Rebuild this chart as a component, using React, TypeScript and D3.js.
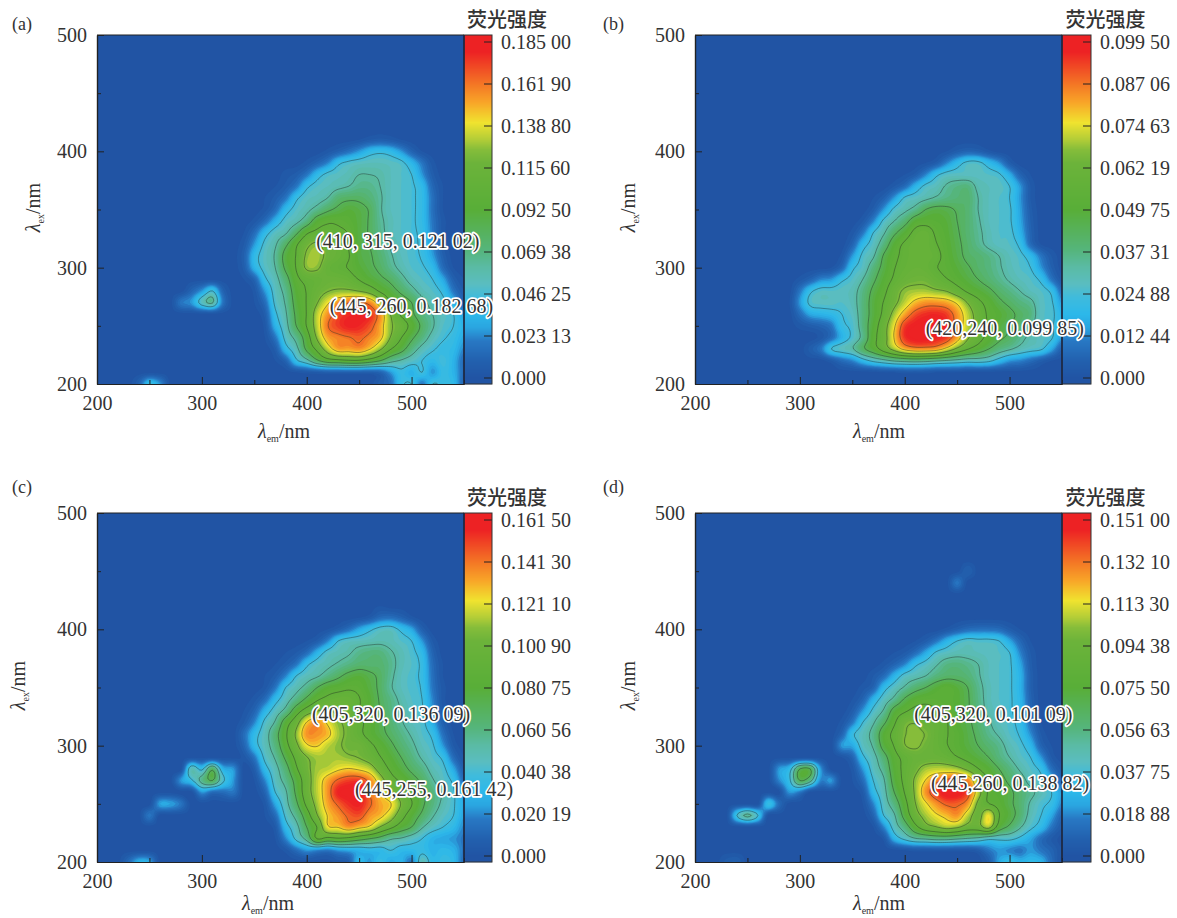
import React, { useEffect, useRef } from 'react';
import * as d3 from 'd3';

// fluorescence EEM maps, values are % of each panel's colourbar maximum
// rows run from high ex to ex=200 in 10 nm steps, columns start at emStart in 10 nm steps
const emTicks = [200, 300, 400, 500];
const emMinor = [250, 350, 450, 550];
const exTicks = [200, 300, 400, 500];
const exMinor = [250, 350, 450];

const barLabelsA = ['0.000', '0.023 13', '0.046 25', '0.069 38', '0.092 50', '0.115 60', '0.138 80', '0.161 90', '0.185 00'];
const barLabelsB = ['0.000', '0.012 44', '0.024 88', '0.037 31', '0.049 75', '0.062 19', '0.074 63', '0.087 06', '0.099 50'];
const barLabelsC = ['0.000', '0.020 19', '0.040 38', '0.060 56', '0.080 75', '0.100 90', '0.121 10', '0.141 30', '0.161 50'];
const barLabelsD = ['0.000', '0.018 88', '0.037 75', '0.056 63', '0.075 50', '0.094 38', '0.113 30', '0.132 10', '0.151 00'];

const rowsA = [
  [0, 0, 0, 0, 0, 0, 0, 0, 0, 0, 0, 1, 3, 4, 3, 1, 0, 0, 0, 0, 0, 0],
  [0, 0, 0, 0, 0, 0, 0, 0, 2, 5, 9, 14, 20, 22, 20, 14, 6, 1, 0, 0, 0, 0],
  [0, 0, 0, 0, 0, 0, 2, 6, 12, 22, 26, 28, 29, 29, 28, 26, 19, 10, 2, 0, 0, 0],
  [0, 0, 0, 0, 2, 4, 10, 20, 26, 28, 30, 33, 33, 32, 29, 27, 24, 14, 4, 0, 0, 0],
  [0, 0, 0, 1, 4, 10, 22, 27, 29, 31, 33, 36, 36, 33, 29, 27, 25, 20, 7, 1, 0, 0],
  [0, 0, 1, 4, 10, 22, 28, 30, 33, 40, 42, 42, 39, 34, 29, 27, 25, 21, 9, 1, 0, 0],
  [0, 0, 2, 8, 20, 27, 31, 36, 42, 46, 49, 47, 43, 34, 29, 27, 25, 21, 9, 1, 0, 0],
  [0, 2, 8, 18, 27, 31, 38, 50, 54, 54, 52, 48, 43, 35, 30, 27, 25, 21, 10, 2, 0, 0],
  [1, 8, 20, 28, 32, 42, 54, 58, 58, 57, 55, 48, 43, 36, 30, 27, 25, 22, 11, 2, 0, 0],
  [3, 14, 26, 32, 42, 54, 64, 68, 62, 60, 55, 48, 44, 38, 32, 28, 26, 22, 13, 3, 0, 0],
  [5, 20, 28, 34, 48, 56, 68, 70, 64, 60, 56, 48, 45, 40, 34, 29, 26, 23, 15, 5, 0, 0],
  [4, 18, 27, 33, 46, 56, 68, 68, 60, 57, 55, 50, 46, 42, 36, 31, 27, 25, 20, 8, 1, 0],
  [1, 6, 22, 30, 40, 53, 58, 60, 62, 62, 60, 55, 50, 46, 42, 36, 30, 27, 24, 16, 5, 1],
  [0, 2, 14, 28, 36, 50, 56, 62, 66, 68, 68, 66, 62, 54, 48, 42, 36, 30, 27, 22, 10, 3],
  [0, 1, 8, 26, 34, 48, 56, 66, 76, 84, 88, 90, 85, 72, 56, 50, 44, 36, 30, 26, 18, 6],
  [0, 0, 4, 22, 32, 46, 56, 72, 84, 92, 96, 98, 96, 84, 66, 54, 46, 38, 33, 28, 24, 14],
  [0, 0, 2, 18, 30, 44, 56, 72, 88, 94, 98, 97, 92, 82, 68, 62, 52, 42, 34, 27, 24, 18],
  [0, 0, 1, 10, 27, 36, 50, 68, 82, 86, 88, 90, 86, 80, 66, 56, 46, 38, 30, 25, 22, 16],
  [0, 0, 0, 4, 20, 30, 46, 58, 72, 82, 82, 84, 78, 68, 56, 48, 38, 30, 25, 22, 20, 12],
  [0, 0, 0, 1, 6, 22, 30, 42, 50, 52, 54, 54, 50, 44, 36, 32, 28, 24, 20, 24, 18, 8],
  [0, 0, 0, 0, 0, 1, 2, 3, 4, 4, 4, 4, 4, 6, 14, 22, 18, 24, 14, 22, 18, 8],
  [0, 0, 0, 0, 0, 0, 0, 0, 0, 0, 0, 0, 0, 4, 8, 22, 24, 10, 24, 22, 20, 6],
];
const spotsA = [
  [280, 270, 10], [290, 270, 14], [300, 270, 28], [310, 270, 34], [320, 270, 10],
  [290, 280, 6], [300, 280, 14], [310, 280, 24], [320, 280, 6],
  [240, 200, 6], [250, 200, 22], [260, 200, 14],
];

const rowsB = [
  [0, 0, 0, 0, 0, 0, 0, 0, 0, 0, 0, 0, 0, 0, 0, 1, 4, 6, 5, 2, 0, 0, 0, 0, 0, 0, 0],
  [0, 0, 0, 0, 0, 0, 0, 0, 0, 0, 0, 0, 0, 1, 4, 12, 20, 26, 26, 20, 14, 4, 0, 0, 0, 0, 0],
  [0, 0, 0, 0, 0, 0, 0, 0, 0, 0, 0, 1, 4, 12, 22, 27, 28, 28, 28, 27, 25, 17, 6, 1, 0, 0, 0],
  [0, 0, 0, 0, 0, 0, 0, 0, 0, 0, 3, 8, 18, 26, 29, 34, 37, 38, 31, 29, 28, 24, 14, 3, 0, 0, 0],
  [0, 0, 0, 0, 0, 0, 0, 0, 1, 5, 14, 25, 28, 31, 34, 37, 39, 40, 33, 29, 27, 24, 14, 3, 0, 0, 0],
  [0, 0, 0, 0, 0, 0, 0, 0, 4, 14, 26, 31, 36, 44, 47, 46, 43, 40, 33, 29, 27, 25, 15, 4, 0, 0, 0],
  [0, 0, 0, 0, 0, 0, 0, 3, 12, 26, 33, 40, 50, 52, 51, 49, 44, 40, 34, 29, 27, 25, 16, 5, 0, 0, 0],
  [0, 0, 0, 0, 0, 0, 2, 10, 24, 32, 42, 50, 58, 60, 54, 50, 45, 40, 35, 30, 27, 26, 18, 6, 0, 0, 0],
  [0, 0, 0, 0, 0, 0, 6, 20, 28, 38, 50, 57, 60, 60, 56, 51, 46, 41, 36, 31, 28, 27, 22, 8, 1, 0, 0],
  [0, 0, 0, 0, 0, 2, 14, 26, 32, 45, 53, 58, 60, 60, 58, 52, 47, 42, 40, 37, 33, 29, 26, 20, 10, 3, 0],
  [0, 0, 0, 0, 1, 7, 22, 28, 38, 47, 55, 59, 61, 60, 56, 53, 49, 45, 41, 38, 34, 30, 27, 24, 14, 5, 0],
  [0, 2, 6, 12, 14, 22, 27, 33, 42, 50, 57, 62, 64, 64, 60, 56, 52, 48, 44, 40, 36, 32, 29, 27, 22, 10, 2],
  [0, 10, 22, 27, 27, 28, 30, 37, 46, 53, 62, 68, 70, 70, 68, 66, 60, 54, 50, 46, 41, 37, 33, 29, 27, 22, 8],
  [1, 14, 26, 28, 28, 27, 30, 38, 48, 56, 64, 72, 80, 84, 84, 82, 76, 66, 58, 52, 46, 42, 38, 35, 28, 25, 14],
  [0, 8, 16, 18, 20, 24, 28, 38, 48, 58, 70, 82, 92, 96, 97, 94, 84, 72, 62, 54, 50, 46, 42, 38, 28, 26, 18],
  [0, 2, 4, 6, 10, 22, 26, 38, 50, 62, 76, 94, 99, 100, 99, 96, 84, 72, 62, 54, 48, 44, 40, 34, 28, 25, 18],
  [0, 0, 0, 2, 8, 18, 26, 36, 52, 62, 78, 95, 100, 100, 98, 94, 82, 68, 60, 52, 46, 42, 36, 31, 28, 25, 14],
  [0, 0, 4, 10, 24, 28, 32, 42, 50, 60, 70, 80, 84, 84, 82, 74, 64, 56, 50, 44, 38, 34, 30, 27, 25, 16, 5],
  [0, 0, 0, 0, 3, 8, 12, 20, 26, 30, 34, 36, 37, 36, 34, 32, 30, 28, 28, 26, 20, 14, 12, 8, 4, 1, 0],
  [0, 0, 0, 0, 0, 0, 0, 0, 0, 1, 1, 2, 2, 2, 1, 1, 1, 0, 0, 0, 0, 0, 0, 0, 0, 0, 0],
  [0],
];

const rowsC = [
  [0, 0, 0, 0, 0, 0, 0, 0, 0, 0, 0, 0, 0, 1, 0, 0, 0, 0, 0, 0, 0, 0],
  [0, 0, 0, 0, 0, 0, 0, 0, 0, 0, 0, 1, 3, 8, 9, 6, 2, 0, 0, 0, 0, 0],
  [0, 0, 0, 0, 0, 0, 0, 0, 1, 4, 9, 16, 22, 27, 28, 22, 16, 5, 0, 0, 0, 0],
  [0, 0, 0, 0, 0, 0, 1, 4, 12, 24, 28, 29, 30, 31, 30, 27, 24, 14, 3, 0, 0, 0],
  [0, 0, 0, 0, 1, 3, 8, 18, 27, 30, 32, 36, 38, 38, 34, 30, 26, 20, 6, 0, 0, 0],
  [0, 0, 0, 1, 4, 10, 22, 28, 31, 34, 37, 40, 40, 40, 36, 30, 27, 22, 8, 1, 0, 0],
  [0, 0, 1, 4, 12, 24, 29, 32, 37, 42, 47, 49, 46, 42, 35, 29, 26, 22, 9, 1, 0, 0],
  [0, 0, 2, 10, 24, 30, 36, 44, 50, 52, 54, 53, 48, 42, 34, 29, 26, 23, 10, 2, 0, 0],
  [0, 2, 8, 20, 29, 37, 46, 54, 58, 60, 60, 56, 50, 43, 37, 31, 27, 24, 12, 2, 0, 0],
  [1, 6, 18, 28, 36, 50, 60, 66, 68, 64, 62, 56, 50, 44, 38, 33, 28, 25, 14, 3, 0, 0],
  [3, 12, 26, 34, 50, 62, 78, 84, 76, 68, 64, 58, 52, 46, 40, 34, 29, 26, 17, 5, 0, 0],
  [8, 20, 29, 40, 54, 68, 84, 84, 80, 70, 64, 58, 52, 47, 42, 37, 32, 27, 22, 9, 1, 0],
  [6, 20, 29, 38, 52, 64, 76, 78, 72, 68, 64, 64, 58, 52, 46, 40, 35, 29, 25, 14, 3, 0],
  [2, 10, 26, 34, 46, 58, 66, 70, 70, 70, 68, 66, 62, 56, 50, 44, 38, 32, 27, 22, 8, 1],
  [0, 4, 20, 30, 40, 54, 64, 70, 72, 76, 78, 76, 72, 62, 54, 48, 42, 37, 30, 26, 16, 4],
  [0, 1, 12, 28, 36, 48, 62, 72, 82, 90, 94, 94, 86, 72, 60, 54, 48, 42, 34, 28, 22, 8],
  [0, 0, 6, 24, 32, 46, 62, 72, 84, 98, 100, 100, 88, 78, 68, 60, 52, 46, 38, 32, 25, 14],
  [0, 0, 2, 16, 30, 42, 58, 70, 82, 90, 96, 98, 90, 82, 78, 66, 56, 46, 38, 31, 25, 16],
  [0, 0, 1, 8, 26, 36, 50, 66, 78, 84, 90, 92, 84, 80, 72, 60, 50, 42, 34, 28, 24, 15],
  [0, 0, 0, 3, 20, 30, 44, 56, 76, 78, 84, 80, 76, 66, 58, 50, 44, 34, 28, 24, 20, 12],
  [0, 0, 0, 1, 12, 26, 36, 56, 52, 54, 52, 48, 44, 40, 34, 32, 28, 24, 18, 16, 14, 10],
  [0, 0, 0, 0, 2, 8, 14, 12, 10, 14, 16, 18, 20, 20, 24, 20, 20, 22, 18, 20, 18, 10],
  [0, 0, 0, 0, 0, 0, 0, 0, 0, 2, 4, 20, 14, 22, 16, 18, 10, 30, 20, 22, 20, 8],
];
const spotsC = [
  [280, 270, 14], [290, 270, 22], [300, 270, 36], [310, 270, 44], [320, 270, 26], [330, 270, 14],
  [290, 280, 30], [300, 280, 22], [310, 280, 42], [320, 280, 18], [330, 280, 14],
  [300, 260, 14], [310, 260, 8], [320, 260, 8], [330, 260, 10],
  [260, 250, 15], [270, 250, 15], [280, 250, 10], [250, 240, 10],
  [230, 200, 8], [240, 200, 18], [250, 200, 16],
];

const rowsD = [
  [0, 0, 0, 0, 0, 0, 0, 0, 0, 0, 2, 5, 8, 9, 9, 8, 4, 1, 0, 0, 0, 0],
  [0, 0, 0, 0, 0, 0, 0, 1, 4, 10, 18, 24, 27, 26, 26, 24, 16, 7, 1, 0, 0, 0],
  [0, 0, 0, 0, 0, 1, 3, 8, 16, 25, 28, 30, 30, 29, 28, 27, 24, 12, 3, 0, 0, 0],
  [0, 0, 0, 0, 2, 6, 12, 22, 27, 32, 37, 38, 36, 33, 29, 27, 25, 16, 4, 0, 0, 0],
  [0, 0, 0, 3, 8, 18, 27, 30, 33, 38, 41, 41, 39, 34, 29, 27, 25, 18, 5, 0, 0, 0],
  [0, 0, 2, 6, 20, 28, 34, 40, 44, 49, 52, 49, 44, 36, 30, 27, 25, 18, 5, 0, 0, 0],
  [0, 1, 6, 18, 28, 35, 45, 51, 53, 53, 52, 50, 45, 37, 30, 27, 25, 19, 6, 0, 0, 0],
  [0, 4, 14, 26, 34, 48, 54, 58, 58, 56, 54, 50, 45, 38, 31, 28, 25, 20, 7, 0, 0, 0],
  [2, 10, 24, 32, 42, 54, 64, 66, 62, 60, 56, 50, 46, 40, 34, 29, 26, 21, 9, 1, 0, 0],
  [6, 22, 29, 36, 50, 58, 66, 68, 66, 60, 56, 52, 47, 42, 36, 32, 27, 23, 13, 3, 0, 0],
  [4, 16, 28, 34, 48, 56, 66, 68, 64, 60, 56, 52, 48, 44, 40, 36, 30, 26, 19, 6, 1, 0],
  [1, 6, 22, 30, 40, 52, 58, 62, 62, 62, 60, 56, 52, 48, 44, 38, 33, 28, 24, 14, 3, 0],
  [0, 2, 14, 28, 36, 50, 58, 64, 70, 72, 72, 70, 64, 56, 50, 44, 38, 32, 27, 22, 9, 2],
  [0, 1, 8, 24, 32, 48, 58, 68, 78, 86, 90, 92, 86, 68, 54, 48, 42, 37, 30, 26, 18, 6],
  [0, 0, 3, 20, 30, 44, 56, 68, 84, 94, 100, 100, 92, 72, 54, 50, 46, 40, 35, 30, 24, 14],
  [0, 0, 1, 12, 28, 38, 52, 66, 76, 84, 90, 90, 84, 64, 56, 52, 46, 40, 32, 26, 22, 12],
  [0, 0, 0, 6, 24, 32, 48, 62, 70, 76, 80, 84, 72, 62, 76, 56, 48, 40, 30, 24, 16, 6],
  [0, 0, 0, 1, 12, 28, 38, 52, 62, 66, 70, 68, 62, 62, 70, 50, 42, 34, 26, 20, 10, 3],
  [0, 0, 0, 0, 2, 18, 26, 32, 34, 36, 36, 34, 32, 30, 26, 26, 26, 22, 16, 8, 3, 0],
  [0, 0, 0, 0, 0, 0, 1, 2, 2, 2, 2, 2, 2, 4, 10, 14, 12, 10, 14, 10, 6, 1],
  [0, 0, 0, 0, 0, 0, 0, 0, 0, 0, 0, 0, 0, 0, 4, 16, 22, 18, 20, 18, 8, 0],
];
const spotsD = [
  [280, 280, 14], [290, 280, 20], [300, 280, 44], [310, 280, 44], [320, 280, 14],
  [280, 270, 12], [290, 270, 22], [300, 270, 44], [310, 270, 36], [320, 270, 12], [330, 270, 14],
  [300, 260, 10], [290, 260, 14], [335, 300, 14], [270, 250, 22], [280, 250, 8],
  [240, 240, 24], [250, 240, 35], [260, 240, 24],
  [450, 440, 10], [460, 450, 5], [240, 200, 5], [230, 200, 4],
];

const colorStops = [0, 5, 11, 15, 19, 24, 28, 33, 38, 50, 64, 68, 71, 76, 82, 87, 97, 100];
const colorValues = ['#2154a4', '#2260ae', '#2878c4', '#2aa5e0', '#2cb8ea', '#3fbbdc', '#5abdc0', '#5abba4', '#55b57c', '#58ae38', '#6cb33a', '#86bd3a', '#b3cd37', '#f0e32f', '#f8a528', '#f47a25', '#ed2224', '#ed2224'];
const lineLevels = [24, 33, 44, 55.5, 66.5, 77.5, 88.5];
const fillLevels = d3.range(1, 101, 2);

const plotW = 367;
const plotH = 349;
const serif = '"Liberation Serif", serif';
const textColor = '#333';

const color = d3.scaleLinear<string>().domain(colorStops).range(colorValues).clamp(true);

// spreads the 10 nm table to a finer one so the contour lines come out rounded
function buildField(rows: number[][], emStart: number, spots: number[][], k: number) {
  const nx = 36;
  const ny = 31;
  const grid = new Float64Array(nx * ny);
  rows.forEach((r, i) => {
    const j = rows.length - 1 - i;
    r.forEach((v, c) => {
      grid[j * nx + (emStart - 200) / 10 + c] = v;
    });
  });
  spots.forEach(([em, ex, v]) => {
    grid[Math.round((ex - 200) / 10) * nx + Math.round((em - 200) / 10)] = v;
  });
  const at = (i: number, j: number) => grid[Math.max(0, Math.min(ny - 1, j)) * nx + Math.max(0, Math.min(nx - 1, i))];
  const cr = (a: number, b: number, c: number, d: number, t: number) =>
    0.5 * (2 * b + (c - a) * t + (2 * a - 5 * b + 4 * c - d) * t * t + (3 * b - a - 3 * c + d) * t * t * t);
  const w = (nx - 1) * k + 1;
  const h = (ny - 1) * k + 1;
  const out = new Array(w * h);
  for (let y = 0; y < h; y++) {
    const j = Math.floor(y / k);
    const ty = y / k - j;
    for (let x = 0; x < w; x++) {
      const i = Math.floor(x / k);
      const tx = x / k - i;
      const col = [-1, 0, 1, 2].map((dj) =>
        cr(at(i - 1, j + dj), at(i, j + dj), at(i + 1, j + dj), at(i + 2, j + dj), tx));
      out[y * w + x] = Math.max(0, cr(col[0], col[1], col[2], col[3], ty));
    }
  }
  return { w, h, values: out };
}

type PanelProps = {
  id: string; left: number; top: number; rows: number[][]; emStart: number; spots: number[][];
  barLabels: string[]; notes: [string, number, number][]; labelDx: number; xLabelX: number; xLabelDy: number; yLabelDx: number;
  barW: number; letterY: number;
};

function Panel(p: PanelProps) {
  const ref = useRef<SVGGElement>(null);

  useEffect(() => {
    const g = d3.select(ref.current);
    g.selectAll('*').remove();

    const x = d3.scaleLinear().domain([200, 550]).range([0, plotW]);
    const y = d3.scaleLinear().domain([200, 500]).range([plotH, 0]);
    const barY = d3.scaleLinear().domain([0, 100]).range([plotH - 6, 7]);

    const k = 5;
    const field = buildField(p.rows, p.emStart, p.spots, k);
    const project = d3.geoTransform({
      point(px: number, py: number) {
        (this as any).stream.point(x(200 + ((px - 0.5) / k) * 10), y(200 + ((py - 0.5) / k) * 10));
      },
    });
    const path = d3.geoPath(project);
    const contours = d3.contours().size([field.w, field.h]);

    g.append('clipPath').attr('id', 'clip-' + p.id)
      .append('rect').attr('width', plotW).attr('height', plotH);

    const plot = g.append('g').attr('clip-path', `url(#clip-${p.id})`);
    plot.append('rect').attr('width', plotW).attr('height', plotH).attr('fill', color(0));
    plot.selectAll('path.band')
      .data(contours.thresholds(fillLevels)(field.values))
      .enter().append('path')
      .attr('class', 'band')
      .attr('d', path as any)
      .attr('fill', (d: any) => color(d.value + 1));
    plot.selectAll('path.line')
      .data(contours.thresholds(lineLevels)(field.values))
      .enter().append('path')
      .attr('class', 'line')
      .attr('d', path as any)
      .attr('fill', 'none')
      .attr('stroke', '#1c2a22')
      .attr('stroke-opacity', 0.6)
      .attr('stroke-width', 0.7);

    // colourbar
    const bar = g.append('g').attr('transform', `translate(${plotW},0)`);
    bar.selectAll('rect')
      .data(d3.range(0, plotH))
      .enter().append('rect')
      .attr('y', (d) => d)
      .attr('width', p.barW)
      .attr('height', 1.2)
      .attr('fill', (d) => color(barY.invert(d + 0.5)));
    p.barLabels.forEach((t, i) => {
      const v = (i / 8) * 100;
      bar.append('line')
        .attr('x1', p.barW - 8).attr('x2', p.barW)
        .attr('y1', barY(v)).attr('y2', barY(v))
        .attr('stroke', '#222').attr('stroke-width', 1);
      bar.append('text')
        .attr('x', p.barW + 9).attr('y', barY(v))
        .attr('dy', '0.34em')
        .attr('font-family', serif).attr('font-size', 20).attr('fill', textColor)
        .text(t);
    });
    bar.append('rect').attr('width', p.barW).attr('height', plotH)
      .attr('fill', 'none').attr('stroke', '#333').attr('stroke-width', 1);
    g.append('text')
      .attr('x', plotW + p.barW / 2 + 29).attr('y', -15).attr('dy', '0.36em')
      .attr('text-anchor', 'middle')
      .attr('font-family', '"Noto Sans CJK SC"').attr('font-size', 20).attr('font-weight', 500).attr('fill', textColor)
      .text('荧光强度');

    // axes
    const styleAxis = (a: any) => {
      a.select('.domain').attr('stroke', '#222').attr('stroke-width', 1.2);
      a.selectAll('line').attr('stroke', '#222');
      a.selectAll('text').attr('font-family', serif).attr('font-size', 20).attr('fill', textColor);
    };
    g.append('g').attr('transform', `translate(0,${plotH})`)
      .call(d3.axisBottom(x).tickValues(emMinor).tickSize(-4).tickFormat(() => '').tickSizeOuter(0) as any)
      .call(styleAxis);
    g.append('g').attr('transform', `translate(0,${plotH})`)
      .call(d3.axisBottom(x).tickValues(emTicks).tickSize(-7).tickPadding(12).tickSizeOuter(0) as any)
      .call(styleAxis);
    g.append('g')
      .call(d3.axisLeft(y).tickValues(exMinor).tickSize(-4).tickFormat(() => '').tickSizeOuter(0) as any)
      .call(styleAxis);
    g.append('g')
      .call(d3.axisLeft(y).tickValues(exTicks).tickSize(-7).tickPadding(10).tickSizeOuter(0) as any)
      .call(styleAxis);
    g.append('line').attr('x1', 0).attr('x2', plotW).attr('stroke', '#222').attr('stroke-width', 1.2);
    g.append('line').attr('x1', plotW).attr('x2', plotW).attr('y2', plotH).attr('stroke', '#1a2440').attr('stroke-width', 1.4);

    // peak notes
    p.notes.forEach(([t, em, ex]) => {
      g.append('text')
        .attr('x', x(em)).attr('y', y(ex)).attr('dy', '0.34em')
        .attr('font-family', serif).attr('font-size', 20)
        .attr('fill', '#333')
        .attr('stroke', '#fff').attr('stroke-width', 3.4).attr('stroke-linejoin', 'round')
        .attr('paint-order', 'stroke')
        .text(t);
    });

    // axis titles
    const axisLabel = (sel: any, sym: string, sub: string) => {
      sel.attr('font-family', serif).attr('font-size', 20).attr('fill', textColor).attr('text-anchor', 'middle');
      sel.append('tspan').attr('font-style', 'italic').text(sym);
      sel.append('tspan').attr('font-size', 10).attr('dy', 4).text(sub);
      sel.append('tspan').attr('dy', -4).text('/nm');
    };
    g.append('text').attr('x', p.xLabelX).attr('y', plotH + p.xLabelDy).call(axisLabel, 'λ', 'em');
    g.append('text')
      .attr('transform', `translate(${p.yLabelDx},${plotH / 2 - 2}) rotate(-90)`)
      .call(axisLabel, 'λ', 'ex');

    g.append('text')
      .attr('x', p.labelDx).attr('y', p.letterY)
      .attr('font-family', serif).attr('font-size', 18).attr('fill', textColor)
      .text('(' + p.id + ')');
  }, []);

  return <g ref={ref} transform={`translate(${p.left},${p.top})`} />;
}

export default function App() {
  return (
    <svg width={1177} height={918} style={{ position: 'absolute', left: 0, top: 0, background: '#fff' }}>
      <Panel id="a" left={97} top={35} rows={rowsA} emStart={340} spots={spotsA} barLabels={barLabelsA}
        notes={[['(410, 315, 0.121 02)', 409, 323], ['(445, 260, 0.182 68)', 422, 267]]}
        labelDx={-85} xLabelX={187} xLabelDy={54} yLabelDx={-57} barW={28} letterY={-5} />
      <Panel id="b" left={695} top={35} rows={rowsB} emStart={290} spots={[]} barLabels={barLabelsB}
        notes={[['(420,240, 0.099 85)', 420, 248]]}
        labelDx={-92} xLabelX={184} xLabelDy={54} yLabelDx={-60} barW={29} letterY={-5} />
      <Panel id="c" left={97} top={513} rows={rowsC} emStart={340} spots={spotsC} barLabels={barLabelsC}
        notes={[['(405,320, 0.136 09)', 405, 327], ['(445,255, 0.161 42)', 446, 263]]}
        labelDx={-85} xLabelX={171} xLabelDy={48} yLabelDx={-72} barW={28} letterY={-20} />
      <Panel id="d" left={695} top={513} rows={rowsD} emStart={340} spots={spotsD} barLabels={barLabelsD}
        notes={[['(405,320, 0.101 09)', 409, 327], ['(445,260, 0.138 82)', 425, 268]]}
        labelDx={-92} xLabelX={184} xLabelDy={48} yLabelDx={-60} barW={29} letterY={-20} />
    </svg>
  );
}
